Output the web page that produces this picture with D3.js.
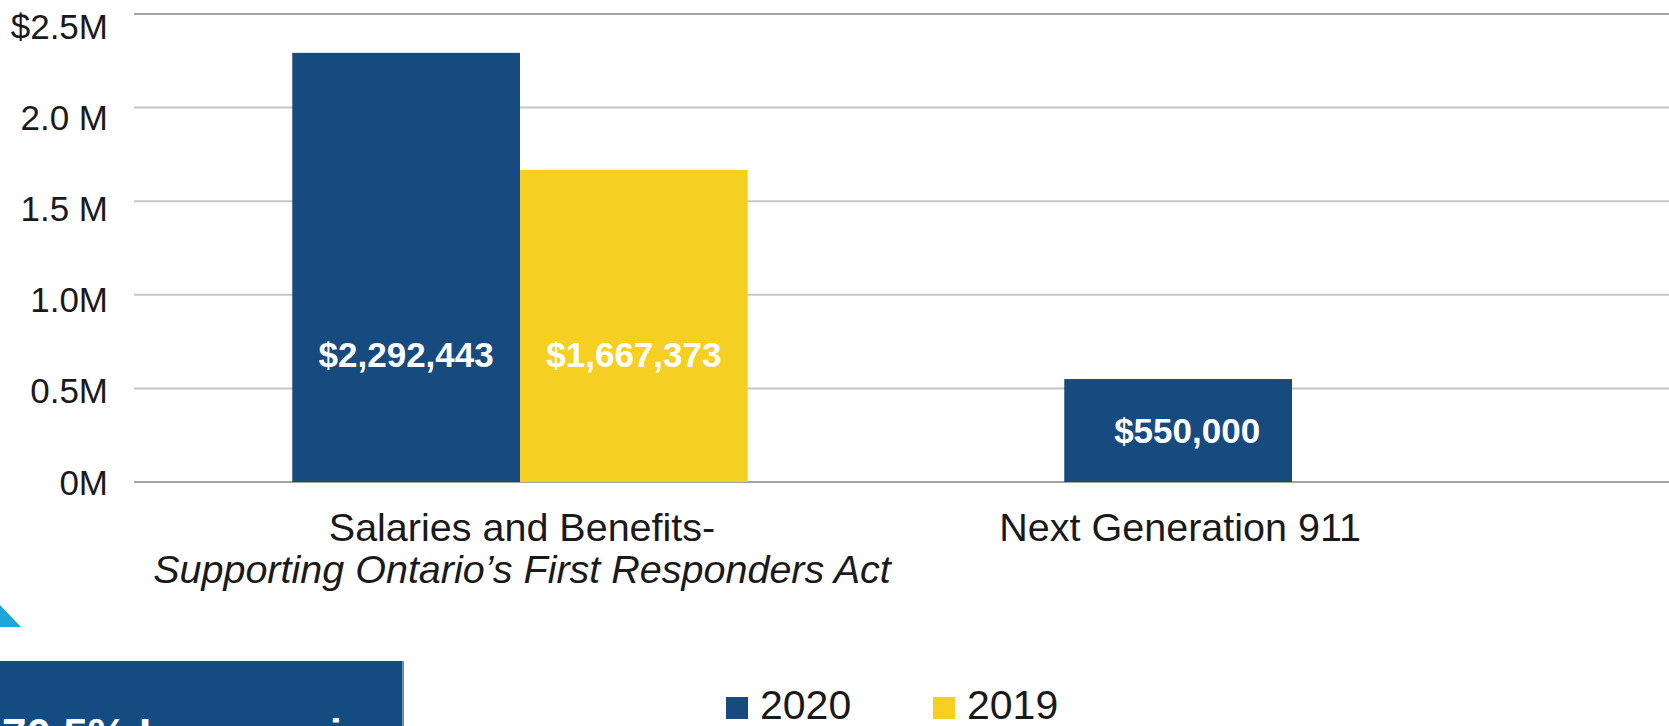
<!DOCTYPE html>
<html>
<head>
<meta charset="utf-8">
<script src="https://cdn.jsdelivr.net/npm/d3@7"></script>
<style>
  body { margin: 0; background: #fff; }
  svg { display: block; font-family: "Liberation Sans", Arial, sans-serif; }
</style>
</head>
<body>
<svg id="chart" width="1669" height="726"></svg>
<script>
// chart data
var categories = ["Salaries and Benefits-", "Next Generation 911"];
var subtitles = ["Supporting Ontario\u2019s First Responders Act", ""];
var series = ["2020", "2019"];
var values2020 = [2292443, 550000];
var values2019 = [1667373, null];
var tickValues = [0, 500000, 1000000, 1500000, 2000000, 2500000];
var tickLabels = ["0M", "0.5M", "1.0M", "1.5 M", "2.0 M", "$2.5M"];

var colors = { "2020": "#174b80", "2019": "#f6cf23" };

var svg = d3.select("#chart");
var W = 1669, H = 726;

// plot area (don't call these top/left, window.top is read only)
var plotL = 134, plotR = 1678, plotT = 14, plotB = 482;

var x = d3.scaleBand().domain(categories).range([plotL, plotR])
  .paddingInner(0.41).paddingOuter(0.205);
var xs = d3.scaleBand().domain(series).range([0, x.bandwidth()]);
var y = d3.scaleLinear().domain([0, 2500000]).range([plotB, plotT]);
// the tick labels sit on a slightly shorter ladder than the gridlines
var yLab = d3.scaleLinear().domain([0, 2500000]).range([plotB, 26]);

var rows = categories.map(function(c, i) {
  return { cat: c, sub: subtitles[i], vals: [
    { s: "2020", v: values2020[i] },
    { s: "2019", v: values2019[i] }
  ].filter(function(d) { return d.v != null; }) };
});

// gridlines
svg.append("g").selectAll("line").data(tickValues).join("line")
  .attr("x1", plotL).attr("x2", W)
  .attr("y1", function(d) { return y(d); }).attr("y2", function(d) { return y(d); })
  .attr("stroke", function(d, i) { return (i == 0 || i == tickValues.length - 1) ? "#a3a3a3" : "#c6c6c6"; })
  .attr("stroke-width", 2);

// y labels
svg.append("g").selectAll("text").data(tickValues).join("text")
  .attr("x", 108)
  .attr("y", function(d) { return yLab(d); })
  .attr("dy", "0.36em")
  .attr("text-anchor", "end")
  .attr("font-size", 35)
  .attr("fill", "#1a1a1a")
  .text(function(d, i) { return tickLabels[i]; });

// bars
var groups = svg.append("g").selectAll("g").data(rows).join("g")
  .attr("transform", function(d) { return "translate(" + x(d.cat) + ",0)"; });

groups.selectAll("rect").data(function(d) { return d.vals; }).join("rect")
  .attr("x", function(d) { return xs(d.s); })
  .attr("width", xs.bandwidth())
  .attr("y", function(d) { return y(d.v); })
  .attr("height", function(d) { return y(0) - y(d.v); })
  .attr("fill", function(d) { return colors[d.s]; });

// value labels inside the bars
var fmt = d3.format("$,");
groups.each(function(row) {
  var lone = row.vals.length == 1;   // the lone bar's label sits a bit right
  d3.select(this).selectAll("text.val").data(row.vals).join("text")
    .attr("class", "val")
    .attr("x", function(d) { return xs(d.s) + xs.bandwidth() / 2 + (lone ? 9 : 0); })
    .attr("y", function(d) { return Math.max((y(d.v) + y(0)) / 2, y(680000)); })
    .attr("dy", "0.36em")
    .attr("text-anchor", "middle")
    .attr("font-size", 35)
    .attr("font-weight", "bold")
    .attr("fill", "#fff")
    .text(function(d) { return fmt(d.v); });
});

// category labels, centred under the bars that are present
function labelX(d) {
  var a = xs(d.vals[0].s), b = xs(d.vals[d.vals.length - 1].s) + xs.bandwidth();
  return x(d.cat) + (a + b) / 2 + 2;
}
var cl = svg.append("g").selectAll("text").data(rows).join("text")
  .attr("x", labelX)
  .attr("y", 541)
  .attr("text-anchor", "middle")
  .attr("font-size", 39.5)
  .attr("fill", "#1a1a1a");
cl.append("tspan").text(function(d) { return d.cat; });
cl.append("tspan")
  .attr("x", labelX).attr("dy", 42)
  .attr("font-style", "italic")
  .text(function(d) { return d.sub; });

// legend
var legX = [726, 933];
var leg = svg.append("g").selectAll("g").data(series).join("g")
  .attr("transform", function(d, i) { return "translate(" + legX[i] + ",697)"; });
leg.append("rect").attr("width", 22).attr("height", 22)
  .attr("fill", function(d) { return colors[d]; });
leg.append("text").attr("x", 34).attr("y", 22)
  .attr("font-size", 41).attr("fill", "#1a1a1a")
  .text(function(d) { return d; });

// slide decoration bits at the bottom left
svg.append("path").attr("d", "M0,605 L21,627 L0,627 Z").attr("fill", "#1fa6d9");
svg.append("rect").attr("x", 0).attr("y", 661).attr("width", 404).attr("height", 80)
  .attr("fill", "#134c80");
svg.append("line").attr("x1", 403).attr("x2", 403).attr("y1", 661).attr("y2", 726)
  .attr("stroke", "#6f8fba").attr("stroke-width", 2);
svg.append("text").attr("x", 2).attr("y", 750)
  .attr("font-size", 44).attr("font-weight", "bold").attr("fill", "#fff")
  .text("70.5% Increase in");
</script>
</body>
</html>
